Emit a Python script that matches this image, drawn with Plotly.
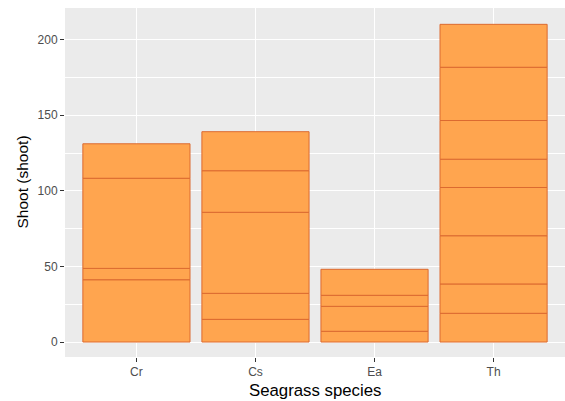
import plotly.graph_objects as go

categories = ["Cr", "Cs", "Ea", "Th"]
# stacked segment values (bottom to top) per species
seg_cr = [41.2, 7.5, 59.6, 22.8]
seg_cs = [15.0, 17.2, 53.6, 27.5, 25.8]
seg_ea = [7.1, 16.5, 7.3, 17.2]
seg_th = [19.0, 19.4, 31.9, 31.9, 18.7, 25.6, 35.2, 28.4]
y_ticks = [0, 50, 100, 150, 200]

segments = {"Cr": seg_cr, "Cs": seg_cs, "Ea": seg_ea, "Th": seg_th}

xs, ys, bases = [], [], []
for cat in categories:
    b = 0.0
    for v in segments[cat]:
        xs.append(cat)
        ys.append(v)
        bases.append(b)
        b += v

fig = go.Figure(go.Bar(
    x=xs, y=ys, base=bases, width=0.9,
    marker=dict(color="#FFA54F", line=dict(color="#DC6A30", width=1)),
    hoverinfo="skip",
))

fig.update_layout(
    width=565, height=401,
    margin=dict(l=65, r=0, t=8, b=44, pad=0, autoexpand=False),
    paper_bgcolor="white", plot_bgcolor="#EBEBEB",
    barmode="overlay", showlegend=False, hovermode=False,
    font=dict(family="Liberation Sans, Arial, sans-serif", color="#4D4D4D", size=12),
    annotations=[
        dict(text="Seagrass species", xref="paper", yref="paper", x=0.5, y=-0.097,
             xanchor="center", yanchor="middle", showarrow=False,
             font=dict(size=16.8, color="black")),
        dict(text="Shoot (shoot)", xref="paper", yref="paper", x=-0.086, y=0.5,
             xanchor="center", yanchor="middle", showarrow=False, textangle=-90,
             font=dict(size=15.5, color="black")),
    ],
)
fig.update_xaxes(
    categoryorder="array", categoryarray=categories,
    range=[-0.6, 3.6], automargin=False,
    showgrid=True, gridcolor="white", gridwidth=1.2,
    ticks="outside", ticklen=4, tickcolor="#333333", tickwidth=1,
    tickfont=dict(size=12, color="#4D4D4D"),
    zeroline=False, showline=False,
)
fig.update_yaxes(
    range=[-9.9, 220.9], automargin=False,
    tickvals=y_ticks, ticktext=[str(v) for v in y_ticks],
    showgrid=True, gridcolor="white", gridwidth=1.2,
    minor=dict(tickvals=[25, 75, 125, 175], showgrid=True, gridcolor="white", gridwidth=0.6, ticks=""),
    ticks="outside", ticklen=4, tickcolor="#333333", tickwidth=1,
    tickfont=dict(size=12, color="#4D4D4D"),
    zeroline=False, showline=False,
)

fig.write_html("out.html", config={"displayModeBar": False},
               post_script="document.body.style.margin='0';document.body.style.overflow='hidden';")
